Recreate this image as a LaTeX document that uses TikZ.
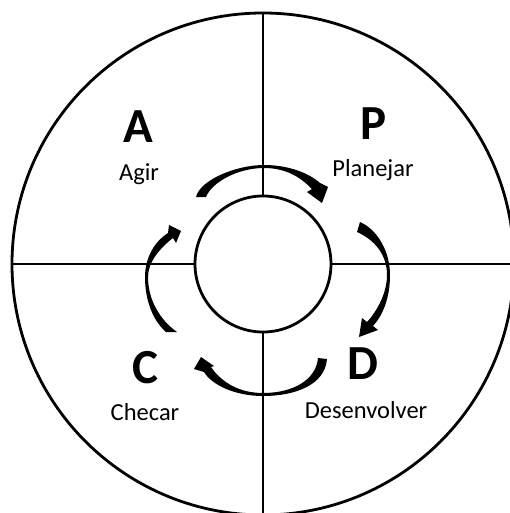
\documentclass[tikz,border=0pt]{standalone}
\usepackage{fontspec}
\setmainfont{Carlito}
\begin{document}
\begin{tikzpicture}[x=1pt,y=-1pt,
  ln/.style={line width=2.8pt, draw=black},
  big/.style={font=\bfseries\fontsize{49}{49}\selectfont, inner sep=0pt},
  lbl/.style={font=\fontsize{24.5}{24.5}\selectfont, inner sep=0pt},
  arr/.style={fill=black, draw=none}]
\useasboundingbox (0,0) rectangle (510,513);
\fill[white] (0,0) rectangle (510,513);
\coordinate (O) at (263,264);
\coordinate (Nt) at (263,13);
\coordinate (Nb) at (263,513);
\coordinate (Wl) at (12,264);
\coordinate (Er) at (510,264);
% outer circle and cross
\draw[ln] (O) circle[radius=251];
\draw[ln] (Nt) -- (Nb);
\draw[ln] (Wl) -- (Er);
% inner circle
\draw[ln, fill=white] (O) circle[radius=68];
% labels
\node[big] (A) at (138,127) {A};
\node[lbl] (Ag) at (139,174) {Agir};
\node[big] (P) at (374,124) {P};
\node[lbl] (Pl) at (373,170) {Planejar};
\node[big] (C) at (145,368) {C};
\node[lbl] (Ch) at (145,412) {Checar};
\node[big] (D) at (363,364) {D};
\node[lbl] (De) at (366,410) {Desenvolver};
% top arrow (A -> P)
\path[arr] (196,197) .. controls (200,180) and (236,165) .. (264,165)
  .. controls (290,165) and (310,174) .. (320,183)
  -- (328,187) -- (322,203) -- (307,192) -- (312,189)
  .. controls (302,179) and (288,168) .. (264,168)
  .. controls (238,168) and (212,182) .. (206,197) -- cycle;
% right arrow (P -> D)
\path[arr] (360,222) .. controls (378,230) and (390,252) .. (390,275)
  .. controls (390,298) and (383,315) .. (373,326)
  -- (378,330) -- (359,337) -- (362,318) -- (367,322)
  .. controls (378,310) and (387,292) .. (387,275)
  .. controls (387,255) and (375,240) .. (357,232) -- cycle;
% bottom arrow (D -> C)
\path[arr] (327,359) .. controls (325,385) and (295,396) .. (263,396)
  .. controls (235,396) and (212,385) .. (204,372)
  -- (194,369) -- (201,357) -- (214,366) -- (211,367)
  .. controls (222,383) and (240,393) .. (263,393)
  .. controls (293,393) and (316,380) .. (318,358) -- cycle;
% left arrow (C -> A)
\path[arr] (166,332) .. controls (150,318) and (145,295) .. (145,277)
  .. controls (145,258) and (154,242) .. (168,233)
  -- (169,225) -- (181,231) -- (176,243) -- (173,238)
  .. controls (160,248) and (148,262) .. (148,277)
  .. controls (148,300) and (160,320) .. (177,332) -- cycle;
\end{tikzpicture}
\end{document}
